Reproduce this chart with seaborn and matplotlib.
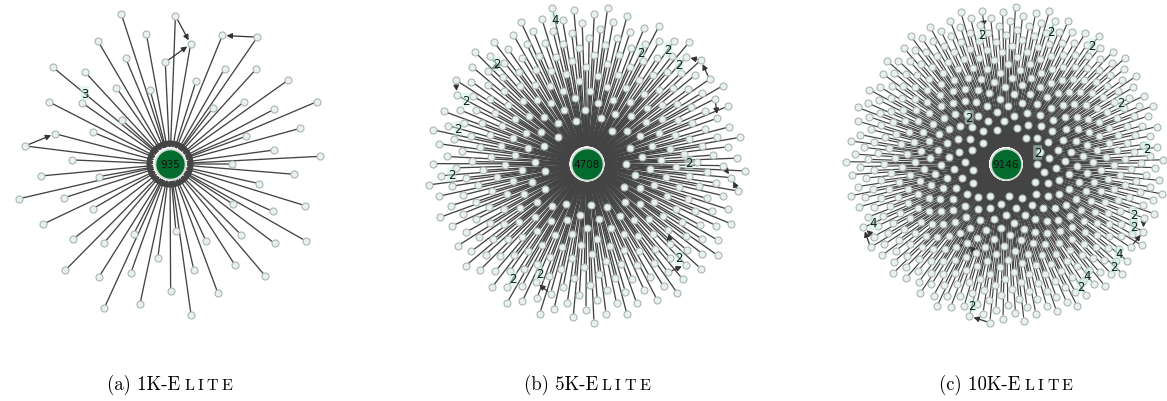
import numpy as np
import pandas as pd
import matplotlib
matplotlib.use("Agg")
import matplotlib.pyplot as plt
import seaborn as sns
from matplotlib.patches import FancyArrowPatch

# ---------------------------------------------------------------- data
panel_tags = ["(a)", "(b)", "(c)"]
dataset_sizes = ["1K", "5K", "10K"]
dataset_name = "ELITE"
hub_counts = [935, 4708, 9146]      # weight shown on the central node
leaf_counts = [64, 330, 540]        # neighbours of the central node

# parallel edges towards the hub: (leaf index, multiplicity)
multi_edges_a = [(56, 3)]
multi_edges_b = [(328, 4), (268, 2), (276, 2), (263, 2), (271, 2), (291, 2),
                 (223, 2), (270, 2), (144, 2), (251, 2), (274, 2), (206, 2)]
multi_edges_c = [(417, 2), (477, 2), (524, 2), (406, 2), (69, 2), (8, 2),
                 (487, 2), (458, 2), (492, 2), (505, 4), (539, 2), (463, 4),
                 (497, 2), (515, 2), (512, 4)]

# directed edges between neighbours: (source leaf, target leaf)
leaf_links_a = [(53, 32), (19, 32), (58, 45), (51, 30)]
leaf_links_b = [(304, 270), (283, 304), (262, 241), (301, 267), (233, 267),
                (162, 128), (230, 251), (213, 234), (310, 276), (227, 206)]
leaf_links_c = [(478, 512), (533, 512), (185, 151), (172, 151), (130, 151),
                (458, 492), (471, 492), (417, 451), (536, 515)]

multi_edges = [multi_edges_a, multi_edges_b, multi_edges_c]
leaf_links = [leaf_links_a, leaf_links_b, leaf_links_c]

# --------------------------------------------------------------- style
W, H = 1167, 402
centers_px = [170, 587, 1006]       # horizontal centre of each panel
center_y_px = 165
ring_px = 160                       # outer layout radius in pixels
inner_radius = [0.38, 0.24, 0.19]   # hole left around the hub
label_pos = [0.73, 0.93, 0.93]
hub_diam_px = [30, 32, 31]
edge_lw = [0.95, 0.95, 0.85]

HUB_GREEN = "#046b2e"
HUB_EDGE = "#cddbd4"
LEAF_FACE = "#e9f1ef"
LEAF_EDGE = "#aab5b2"
EDGE_COLOR = "#444444"
PT = 72 / 100                       # points per pixel at 100 dpi
LEAF_DIAM_PX = 7.0

CAPTION_BASELINE_PX = 12            # from the bottom edge
CAP_BIG = dict(fontfamily="cmr10", fontsize=13.5, color="black")
CAP_SMALL = dict(fontfamily="cmr10", fontsize=11.5, color="black")
SMALLCAP_GAP_PX = 3.5

GOLDEN = np.pi * (3 - np.sqrt(5))


def radial_layout(n, r0):
    """Sunflower layout of n leaves in the annulus r0..1 around the hub."""
    k = np.arange(n)
    r = np.sqrt(r0 ** 2 + (1 - r0 ** 2) * (k + 0.5) / n)
    theta = k * GOLDEN
    return pd.DataFrame({"x": r * np.cos(theta), "y": r * np.sin(theta)})


sns.set_style("white")
fig = plt.figure(figsize=(W / 100, H / 100), dpi=100)
renderer = fig.canvas.get_renderer()


def text_width_px(s, props):
    t = fig.text(0, 0, s, **props)
    w = t.get_window_extent(renderer).width
    t.remove()
    return w


def caption(cx, head, tail):
    """Centred caption: head in normal size, tail in spaced small capitals."""
    w_head = text_width_px(head, CAP_BIG)
    w_tail = [text_width_px(c, CAP_SMALL) for c in tail]
    total = w_head + sum(w_tail) + SMALLCAP_GAP_PX * len(tail)
    x = cx - total / 2
    y = CAPTION_BASELINE_PX / H
    fig.text(x / W, y, head, ha="left", va="baseline", **CAP_BIG)
    x += w_head + SMALLCAP_GAP_PX
    for c, w in zip(tail, w_tail):
        fig.text(x / W, y, c, ha="left", va="baseline", **CAP_SMALL)
        x += w + SMALLCAP_GAP_PX


half = 170
lim = half / ring_px
for i in range(3):
    ax = fig.add_axes([(centers_px[i] - half) / W,
                       (H - center_y_px - half) / H,
                       2 * half / W, 2 * half / H])
    ax.set_xlim(-lim, lim)
    ax.set_ylim(-lim, lim)
    ax.set_aspect("equal")
    ax.axis("off")

    leaves = radial_layout(leaf_counts[i], inner_radius[i])
    hub_r_pt = hub_diam_px[i] / 2 * PT
    leaf_r_pt = LEAF_DIAM_PX / 2 * PT

    # edges from every neighbour into the hub
    for x, y in zip(leaves["x"], leaves["y"]):
        ax.add_patch(FancyArrowPatch(
            (x, y), (0, 0), arrowstyle="-|>", mutation_scale=9,
            lw=edge_lw[i], color=EDGE_COLOR,
            shrinkA=leaf_r_pt, shrinkB=hub_r_pt + 0.8, zorder=1))

    # edges between neighbours
    for s, t in leaf_links[i]:
        ax.add_patch(FancyArrowPatch(
            (leaves.x[s], leaves.y[s]), (leaves.x[t], leaves.y[t]),
            arrowstyle="-|>", mutation_scale=8, lw=0.9, color="#333333",
            shrinkA=leaf_r_pt, shrinkB=leaf_r_pt + 0.5, zorder=1.5))

    sns.scatterplot(data=leaves, x="x", y="y", ax=ax,
                    s=(LEAF_DIAM_PX * PT) ** 2, color=LEAF_FACE,
                    edgecolor=LEAF_EDGE, linewidth=0.8, zorder=3,
                    legend=False)

    hub = pd.DataFrame({"x": [0.0], "y": [0.0]})
    sns.scatterplot(data=hub, x="x", y="y", ax=ax,
                    s=(hub_diam_px[i] * PT) ** 2, color=HUB_GREEN,
                    edgecolor=HUB_EDGE, linewidth=1.2, zorder=4,
                    legend=False)
    ax.text(0, 0, str(hub_counts[i]), ha="center", va="center",
            fontsize=7.5, color="#111111", zorder=5)

    for k, m in multi_edges[i]:
        t = label_pos[i]
        ax.text(t * leaves.x[k], t * leaves.y[k], str(m),
                ha="center", va="center", fontsize=8.5, color="#0c2119",
                zorder=6,
                bbox=dict(boxstyle="round,pad=0.06", fc="#cdeee0",
                          ec="none", alpha=0.5))
    ax.set_xlabel("")
    ax.set_ylabel("")

    caption(centers_px[i],
            f"{panel_tags[i]} {dataset_sizes[i]}-{dataset_name[0]}",
            dataset_name[1:])

fig.savefig("out.png", dpi=100, facecolor="white")
